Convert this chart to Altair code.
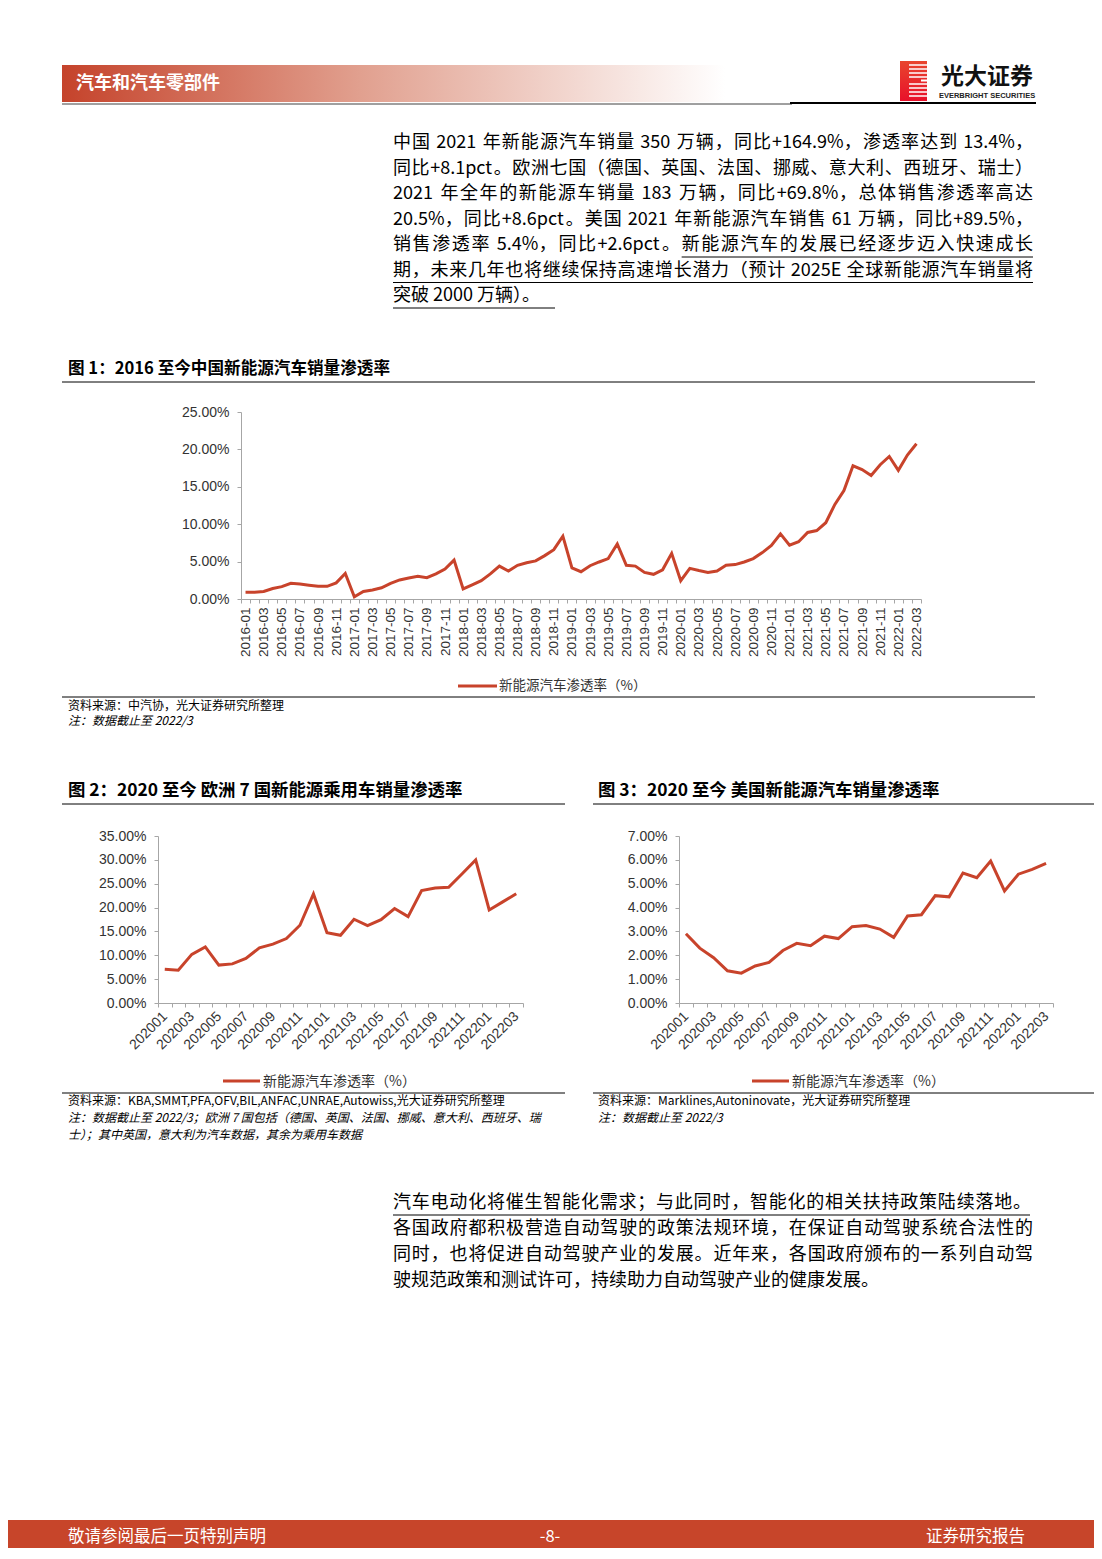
import altair as alt
import pandas as pd

# ---------------- data ----------------
cn_months = [f"{y}-{m:02d}" for y in range(2016, 2023) for m in range(1, 13)][:75]
cn_rate = [0.9, 0.9, 1.0, 1.4, 1.65, 2.1, 2.0, 1.85, 1.7, 1.7, 2.15, 3.4,
           0.3, 1.0, 1.2, 1.5, 2.1, 2.55, 2.8, 3.05, 2.85, 3.35, 4.0, 5.2,
           1.35, 1.9, 2.45, 3.35, 4.4, 3.75, 4.5, 4.85, 5.1, 5.8, 6.6, 8.4,
           4.15, 3.65, 4.45, 4.95, 5.4, 7.35, 4.5, 4.4, 3.55, 3.3, 3.9, 6.1,
           2.45, 4.1, 3.8, 3.55, 3.75, 4.5, 4.6, 4.95, 5.4, 6.2, 7.15, 8.7,
           7.2, 7.65, 8.9, 9.15, 10.2, 12.65, 14.5, 17.8, 17.3, 16.5, 17.95, 19.05,
           17.2, 19.25, 20.75]

ym_months = [f"{y}{m:02d}" for y in range(2020, 2023) for m in range(1, 13)][:27]
eu_rate = [7.05, 6.85, 10.2, 11.75, 7.95, 8.2, 9.35, 11.55, 12.35, 13.5, 16.3, 22.85,
           14.75, 14.2, 17.55, 16.2, 17.45, 19.8, 18.1, 23.55, 24.1, 24.25, 27.1, 30.0,
           19.5, 21.2, 22.9]
us_rate = [2.9, 2.3, 1.9, 1.35, 1.25, 1.55, 1.7, 2.2, 2.5, 2.4, 2.8, 2.7,
           3.2, 3.25, 3.1, 2.75, 3.65, 3.7, 4.5, 4.45, 5.45, 5.25, 5.95, 4.7,
           5.4, 5.6, 5.85]

cn_ticks = [0, 5, 10, 15, 20, 25]
eu_ticks = [0, 5, 10, 15, 20, 25, 30, 35]
us_ticks = [0, 1, 2, 3, 4, 5, 6, 7]

series_name = "新能源汽车渗透率（%）"

para1 = [
    "中国 2021 年新能源汽车销量 350 万辆，同比+164.9%，渗透率达到 13.4%，",
    "同比+8.1pct。欧洲七国（德国、英国、法国、挪威、意大利、西班牙、瑞士）",
    "2021 年全年的新能源车销量 183 万辆，同比+69.8%，总体销售渗透率高达",
    "20.5%，同比+8.6pct。美国 2021 年新能源汽车销售 61 万辆，同比+89.5%，",
    "销售渗透率 5.4%，同比+2.6pct。新能源汽车的发展已经逐步迈入快速成长",
    "期，未来几年也将继续保持高速增长潜力（预计 2025E 全球新能源汽车销量将",
    "突破 2000 万辆）。",
]
para2 = [
    "汽车电动化将催生智能化需求；与此同时，智能化的相关扶持政策陆续落地。",
    "各国政府都积极营造自动驾驶的政策法规环境，在保证自动驾驶系统合法性的",
    "同时，也将促进自动驾驶产业的发展。近年来，各国政府颁布的一系列自动驾",
    "驶规范政策和测试许可，持续助力自动驾驶产业的健康发展。",
]

# ---------------- styling ----------------
RED = "#C8432B"
CJK = "Noto Sans CJK SC"
W, H = 1086, 1540
OX, OY = 8, 8
ONE = pd.DataFrame({"k": [0]})
PARA_X0, PARA_FS = 393, 18
LATIN_EM = {"0": .56, "1": .56, "2": .56, "3": .56, "4": .56, "5": .56, "6": .56,
            "7": .56, "8": .56, "9": .56, ".": .27, "%": .86, "+": .56, "p": .62,
            "c": .52, "t": .40, "E": .56}


def px(x):
    return x - OX


def py(y):
    return y - OY


def txt(s, x, y, size=18, weight="normal", color="#000000", align="left",
        font=CJK, style="normal"):
    return alt.Chart(ONE).mark_text(
        align=align, baseline="middle", fontSize=size, fontWeight=weight,
        color=color, font=font, fontStyle=style
    ).encode(x=alt.value(px(x)), y=alt.value(py(y)), text=alt.value(s))


def hline(x1, x2, y, color="#000000", width=1):
    return alt.Chart(ONE).mark_rule(color=color, strokeWidth=width).encode(
        x=alt.value(px(x1)), x2=alt.value(px(x2)), y=alt.value(py(y)), y2=alt.value(py(y)))


def box(x1, x2, y1, y2, fill):
    return alt.Chart(ONE).mark_rect(fill=fill).encode(
        x=alt.value(px(x1)), x2=alt.value(px(x2)), y=alt.value(py(y1)), y2=alt.value(py(y2)))


def tokens_of(s):
    toks, run = [], ""
    for ch in s:
        if ord(ch) < 128 and ch != " ":
            run += ch
        else:
            if run:
                toks.append(run)
                run = ""
            toks.append(ch)
    if run:
        toks.append(run)
    return toks


def adv(tok, fs):
    if tok == " ":
        return 0.224 * fs
    if all(ord(c) < 128 for c in tok):
        return sum(LATIN_EM.get(c, 0.5) for c in tok) * fs
    return fs


def justified(s, y, x1=1033, fs=PARA_FS):
    toks = tokens_of(s)
    widths = [adv(t, fs) for t in toks]
    gap = (x1 - PARA_X0 - sum(widths)) / (len(toks) - 1)
    xs, cur = [], PARA_X0
    for w in widths:
        xs.append(cur)
        cur += w + gap
    df = pd.DataFrame({"t": toks, "x": [px(v) for v in xs]})
    layer = alt.Chart(df).mark_text(
        align="left", baseline="middle", fontSize=fs, font=CJK, color="#000000"
    ).encode(x=alt.X("x:Q", scale=None, axis=None), y=alt.value(py(y)), text="t:N")
    return layer, toks, xs


def panel(months, rates, xr, yr, ydom, ticks, label_angle, month_pos,
          xlabel_size, xpad):
    df = pd.DataFrame({"m": months, "v": rates})
    label_expr = f"toNumber(substring(datum.value, {month_pos})) % 2 == 1 ? datum.value : ''"
    return alt.Chart(df).mark_line(color=RED, strokeWidth=3).encode(
        x=alt.X("m:N", sort=None, bandPosition=0.5,
                scale=alt.Scale(type="band", range=[px(xr[0]), px(xr[1])],
                                paddingInner=0, paddingOuter=0),
                axis=alt.Axis(orient="bottom", offset=py(yr[0]) - H, title=None,
                              tickBand="extent", labelAngle=label_angle,
                              labelAlign="right", labelBaseline="middle",
                              labelExpr=label_expr, labelFont="Liberation Sans",
                              labelFontSize=xlabel_size, labelColor="#333333",
                              labelPadding=xpad, tickSize=4, tickColor="#A6A6A6",
                              domainColor="#A6A6A6", labelOverlap=False, grid=False)),
        y=alt.Y("v:Q",
                scale=alt.Scale(domain=ydom, range=[py(yr[0]), py(yr[1])], nice=False, zero=False),
                axis=alt.Axis(orient="left", offset=-px(xr[0]), title=None, values=ticks,
                              labelExpr="format(datum.value, '.2f') + '%'",
                              labelFont="Liberation Sans", labelFontSize=14,
                              labelColor="#333333", labelPadding=8, tickSize=4,
                              tickColor="#A6A6A6", domainColor="#A6A6A6",
                              grid=False, labelOverlap=False)),
    )


layers = []

# header
layers.append(box(62, 725, 65, 102, {
    "gradient": "linear", "x1": 0, "y1": 0, "x2": 1, "y2": 0,
    "stops": [{"offset": 0, "color": "#C5432B"},
              {"offset": 0.45, "color": "#E1A08F"},
              {"offset": 1, "color": "#FFFFFF"}]}))
layers.append(txt("汽车和汽车零部件", 76, 84, size=18, weight="bold", color="#FFFFFF"))
layers.append(hline(62, 792, 104, color="#404040", width=1))
layers.append(hline(790, 1036, 103, color="#000000", width=2))
# logo
layers.append(box(900, 927, 61, 101, {
    "gradient": "linear", "x1": 0, "y1": 0, "x2": 0, "y2": 1,
    "stops": [{"offset": 0, "color": "#E8452E"},
              {"offset": 1, "color": "#E8102A"}]}))
for yy in [65, 69, 73, 77, 84, 88, 92, 96]:
    layers.append(hline(909, 927, yy, color="#FFFFFF", width=1.5))
layers.append(hline(921, 927, 80.5, color="#FFFFFF", width=2))
layers.append(txt("光大证券", 987, 77, size=23, weight="bold", color="#111111", align="center"))
layers.append(txt("EVERBRIGHT SECURITIES", 987, 96, size=7.5, weight="bold", color="#222222",
                  align="center", font="Liberation Sans"))

# paragraph 1 (justified lines, last line natural)
p1_y = [143, 168.5, 194, 219.5, 245, 270.5, 296]
u_start = 685
for i, (s, yy) in enumerate(zip(para1, p1_y)):
    if i < len(para1) - 1:
        layer, toks, xs = justified(s, yy)
        layers.append(layer)
        if i == 4:
            u_start = xs[toks.index("新")]
    else:
        layers.append(txt(s, PARA_X0, yy, size=PARA_FS))
layers.append(hline(u_start, 1033, 257, width=1))
layers.append(hline(393, 1033, 282.5, width=1))
layers.append(hline(393, 555, 308, width=1))

# figure 1
layers.append(txt("图 1：2016 至今中国新能源汽车销量渗透率", 68, 369, size=16.6, weight="bold"))
layers.append(hline(62, 1035, 382, color="#000000", width=1))
layers.append(panel(cn_months, cn_rate, (241, 921), (599, 412), [0, 25], cn_ticks,
                    -90, 5, 13.5, 4))
layers.append(hline(458, 497, 686, color=RED, width=3))
layers.append(txt(series_name, 499, 686, size=13.5, color="#333333"))
layers.append(hline(62, 1035, 697, color="#000000", width=1))
layers.append(txt("资料来源：中汽协，光大证券研究所整理", 68, 706, size=12))
layers.append(txt("注：数据截止至 2022/3", 68, 721, size=12, style="italic"))

# figure 2
layers.append(txt("图 2：2020 至今 欧洲 7 国新能源乘用车销量渗透率", 68, 791, size=17.4, weight="bold"))
layers.append(hline(62, 565, 804, width=1))
layers.append(panel(ym_months, eu_rate, (158, 523), (1003, 836), [0, 35], eu_ticks,
                    -45, 4, 14, 7))
layers.append(hline(223, 260, 1081, color=RED, width=3))
layers.append(txt(series_name, 263, 1082, size=14, color="#333333"))
layers.append(hline(62, 565, 1093, width=1))
layers.append(txt("资料来源：KBA,SMMT,PFA,OFV,BIL,ANFAC,UNRAE,Autowiss,光大证券研究所整理",
                  68, 1101, size=12))
layers.append(txt("注：数据截止至 2022/3；欧洲 7 国包括（德国、英国、法国、挪威、意大利、西班牙、瑞",
                  68, 1118, size=12, style="italic"))
layers.append(txt("士）；其中英国，意大利为汽车数据，其余为乘用车数据", 68, 1135, size=12, style="italic"))

# figure 3
layers.append(txt("图 3：2020 至今 美国新能源汽车销量渗透率", 598, 791, size=17.4, weight="bold"))
layers.append(hline(593, 1094, 804, width=1))
layers.append(panel(ym_months, us_rate, (679, 1053), (1003, 836), [0, 7], us_ticks,
                    -45, 4, 14, 7))
layers.append(hline(752, 789, 1081, color=RED, width=3))
layers.append(txt(series_name, 792, 1082, size=14, color="#333333"))
layers.append(hline(593, 1094, 1093, width=1))
layers.append(txt("资料来源：Marklines,Autoninovate，光大证券研究所整理", 598, 1101, size=12))
layers.append(txt("注：数据截止至 2022/3", 598, 1118, size=12, style="italic"))

# paragraph 2
p2_y = [1203, 1229, 1255, 1281]
for i, (s, yy) in enumerate(zip(para2, p2_y)):
    if i < 3:
        layer, _, _ = justified(s, yy, x1=1033 if i else 1031)
        layers.append(layer)
    else:
        layers.append(txt(s, PARA_X0, yy, size=PARA_FS))
layers.append(hline(393, 1030, 1215, width=1))

# footer
layers.append(box(0, 1110, 1520, 1560, "#C7452A"))
layers.append(txt("敬请参阅最后一页特别声明", 68, 1537, size=16.5, color="#FFFFFF"))
layers.append(txt("-8-", 550, 1537, size=16.5, color="#FFFFFF", align="center"))
layers.append(txt("证券研究报告", 1025, 1537, size=16.5, color="#FFFFFF", align="right"))

chart = alt.layer(*layers).resolve_scale(x="independent", y="independent").properties(
    width=W, height=H, padding=0, autosize="none", background="#FFFFFF"
).configure_view(stroke=None)

chart.save("out.html", embed_options={"renderer": "svg", "actions": False})
